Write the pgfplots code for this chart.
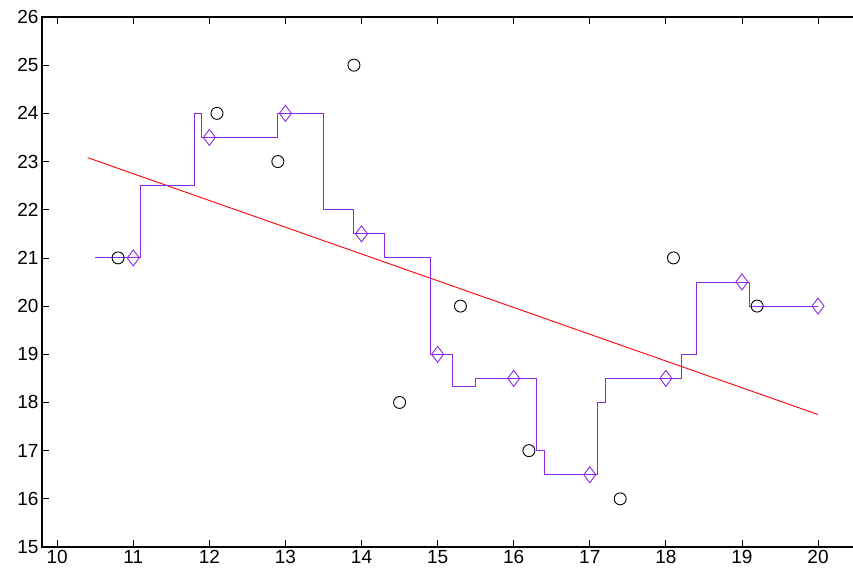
\documentclass[border=0pt]{standalone}
\usepackage{pgfplots}
\pgfplotsset{compat=1.18}
\usepackage{fontspec}
\setmainfont{Liberation Sans}
\definecolor{stepc}{RGB}{138,43,226}
\begin{document}
\begin{tikzpicture}
\begin{axis}[name=ax, scale only axis, width=811pt, height=530pt,
 xmin=9.8, xmax=20.46, ymin=15, ymax=26,
 xtick={10,11,...,20}, ytick={15,16,...,26},
 tick align=inside, ytick pos=left, xtick pos=both,
 major tick length=7pt,
 axis line style={draw=none},
 tick style={black, line width=0.8pt},
 tick label style={font=\fontsize{19}{21}\selectfont},
 /pgf/number format/assume math mode=true,
 clip=false]
\addplot[red, line width=0.9pt] coordinates {(10.4,23.08) (20,17.75)};
\addplot[stepc, line width=0.9pt, const plot mark left, no marks] coordinates {
(10.5,21) (11.1,22.5) (11.8,24) (11.9,23.5) (12.9,24) (13.5,22) (13.9,21.5) (14.3,21)
(14.9,19) (15.2,18.33) (15.5,18.5) (16.3,17) (16.4,16.5) (17.1,18) (17.2,18.5)
(18.2,19) (18.4,20.5) (19.1,20) (20,20)};
\addplot[stepc, only marks, mark=diamond, mark size=8pt, mark options={line width=0.9pt}] coordinates {
(11,21) (12,23.5) (13,24) (14,21.5) (15,19) (16,18.5) (17,16.5) (18,18.5) (19,20.5) (20,20)};
\addplot[black, only marks, mark=o, mark size=6pt, mark options={line width=0.9pt}] coordinates {
(10.8,21) (12.1,24) (12.9,23) (13.9,25) (14.5,18) (15.3,20) (16.2,17) (17.4,16) (18.1,21) (19.2,20)};
\draw[line width=1.3pt, black] (rel axis cs:1,1) -- (rel axis cs:0,1) -- (rel axis cs:0,0) -- (rel axis cs:1,0);
\coordinate (bl) at (rel axis cs:0,0);
\coordinate (tr) at (rel axis cs:1,1);
\end{axis}
\path (bl) ++(-42pt,-28pt) coordinate (a);
\path (tr) ++(0pt,17pt) coordinate (b);
\pgfresetboundingbox
\path (a) rectangle (b);
\end{tikzpicture}
\end{document}
